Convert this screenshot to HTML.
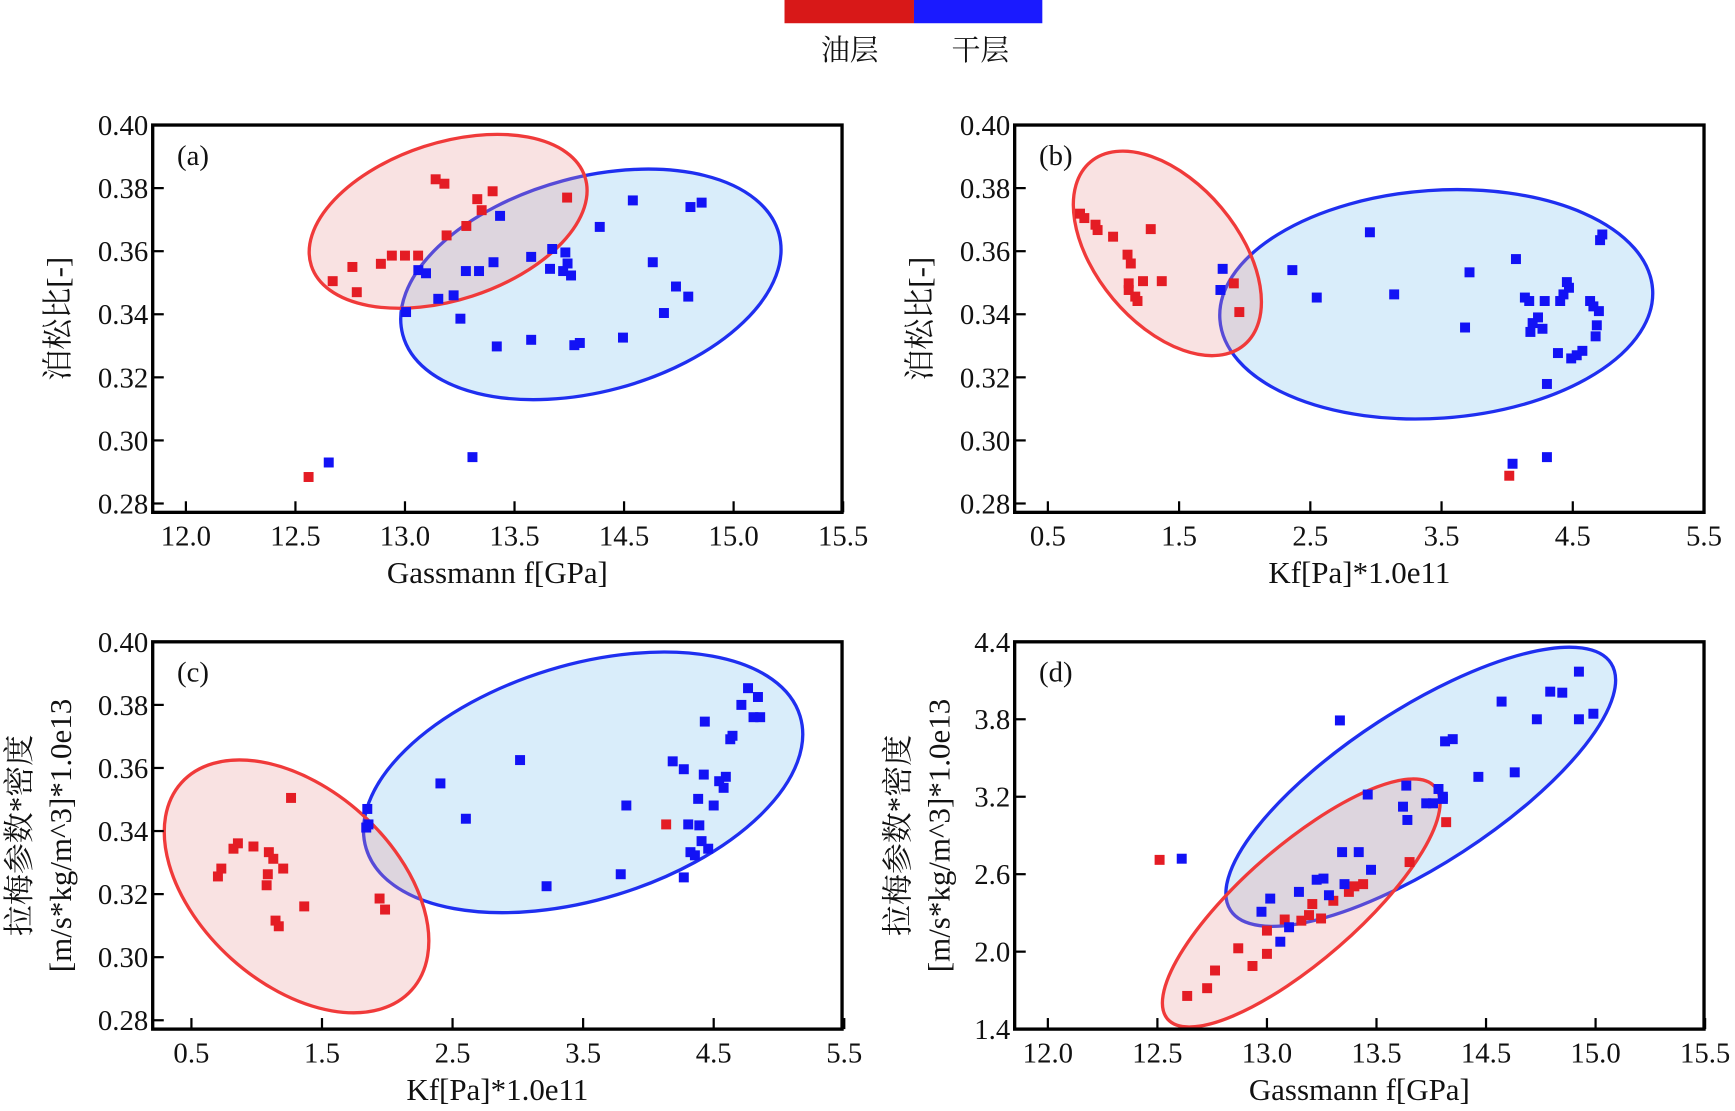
<!DOCTYPE html>
<html><head><meta charset="utf-8"><style>
html,body{margin:0;padding:0;background:#fff;}
svg{display:block;font-family:"Liberation Serif","Noto Serif CJK SC",serif;}
svg text{font-family:"Liberation Serif","Noto Serif CJK SC",serif;fill:#111;}
</style></head><body>
<svg id="fig" width="1735" height="1111" viewBox="0 0 1568 1004" preserveAspectRatio="none" xmlns="http://www.w3.org/2000/svg" font-family="Liberation Serif, Noto Serif CJK SC, serif">
<g>
<rect x="709" y="0" width="117" height="21" fill="#d81818"/>
<rect x="826" y="0" width="116" height="21" fill="#1a1aff"/>
<text x="768" y="54" font-size="26" text-anchor="middle">油层</text>
<text x="886" y="54" font-size="26" text-anchor="middle">干层</text>
</g>
</svg>
<script>
// ---- Panel (a) data ----
const aXTicks=[12.0,12.5,13.0,13.5,14.0,14.5,15.0];
const aXTickLabels=["12.0","12.5","13.0","13.5","14.5","15.0","15.5"];
const aYTicks=[0.40,0.38,0.36,0.34,0.32,0.30,0.28];
const aYTickLabels=["0.40","0.38","0.36","0.34","0.32","0.30","0.28"];
const aRedX=[12.56,12.67,12.76,12.78,12.89,12.94,13.0,13.06,13.14,13.18,13.19,13.28,13.33,13.40,13.35,13.74];
const aRedY=[0.2884,0.3505,0.355,0.347,0.356,0.3586,0.3586,0.3586,0.3828,0.3814,0.365,0.368,0.3765,0.379,0.373,0.377];
const aBlueX=[12.652,13.308,13.005,13.061,13.096,13.152,13.222,13.253,13.278,13.338,13.404,13.434,13.419,13.576,13.576,13.672,13.662,13.732,13.742,13.758,13.722,13.773,13.798,13.889,13.995,14.04,14.131,14.182,14.237,14.293,14.303,14.354];
const aBlueY=[0.2930,0.2947,0.3407,0.354,0.353,0.3449,0.346,0.3386,0.3537,0.3537,0.3565,0.3712,0.3298,0.3582,0.3319,0.3607,0.3544,0.3596,0.3561,0.3523,0.3537,0.3302,0.3309,0.3677,0.3326,0.3761,0.3565,0.3404,0.3488,0.3456,0.374,0.3754];
// ---- Panel (b) data ----
const bXTicks=[0.5,1.5,2.5,3.5,4.5,5.5];
const bXTickLabels=["0.5","1.5","2.5","3.5","4.5","5.5"];
const bRedX=[0.745,0.778,0.863,0.879,0.997,1.107,1.132,1.116,1.116,1.166,1.183,1.225,1.284,1.368,1.917,1.959,4.016];
const bRedY=[0.3719,0.3705,0.3684,0.3667,0.3646,0.3589,0.3561,0.3498,0.3477,0.3456,0.3442,0.3505,0.367,0.3505,0.3498,0.3407,0.2888];
const bBlueX=[1.832,1.815,2.363,2.549,2.954,3.139,3.713,3.679,4.067,4.135,4.168,4.177,4.194,4.235,4.269,4.286,4.303,4.387,4.404,4.429,4.455,4.471,4.488,4.530,4.573,4.632,4.657,4.674,4.683,4.699,4.708,4.725,4.041,4.303];
const bBlueY=[0.3544,0.3477,0.354,0.3453,0.366,0.3463,0.3533,0.3358,0.3575,0.3453,0.3442,0.3344,0.3372,0.339,0.3354,0.3442,0.3179,0.3277,0.3442,0.3463,0.3502,0.3484,0.326,0.327,0.3284,0.3442,0.3425,0.333,0.3365,0.341,0.3635,0.3653,0.2926,0.2947];
// ---- Panel (c) data ----
const cRedX=[0.703,0.729,0.822,0.856,0.975,1.093,1.127,1.085,1.076,1.203,1.263,1.364,1.144,1.169,1.941,1.983,4.136];
const cRedY=[0.3256,0.3281,0.3344,0.3361,0.3351,0.3333,0.3312,0.3263,0.3228,0.3281,0.3505,0.3161,0.3116,0.3098,0.3186,0.3151,0.3421];
const cBlueX=[1.847,1.856,1.839,2.407,2.602,3.017,3.220,3.788,3.831,4.186,4.271,4.305,4.381,4.39,4.432,4.424,4.458,4.5,4.542,4.576,4.593,4.627,4.644,4.712,4.763,4.805,4.839,4.856,4.271,4.322,4.407,4.356];
const cBlueY=[0.347,0.3421,0.3411,0.3551,0.3439,0.3625,0.3225,0.3263,0.3481,0.3621,0.3596,0.3421,0.3502,0.3418,0.3747,0.3579,0.3344,0.3481,0.3558,0.3537,0.3572,0.3691,0.3702,0.38,0.3853,0.3761,0.3825,0.3761,0.3253,0.3333,0.3368,0.3323];
// ---- Panel (d) data ----
const dYTicks=[4.4,3.8,3.2,2.6,2.0,1.4];
const dYTickLabels=["4.4","3.8","3.2","2.6","2.0","1.4"];
const dRedX=[12.510,12.636,12.727,12.763,12.869,12.934,13.0,13.0,13.081,13.157,13.192,13.207,13.247,13.303,13.374,13.399,13.439,13.651,13.818];
const dRedY=[2.711,1.657,1.717,1.854,2.026,1.889,1.983,2.163,2.249,2.24,2.283,2.369,2.257,2.394,2.463,2.506,2.523,2.694,3.003];
const dBlueX=[12.611,13.015,12.975,13.061,13.101,13.146,13.227,13.258,13.283,13.333,13.343,13.354,13.419,13.46,13.475,13.621,13.636,13.641,13.727,13.758,13.783,13.803,13.803,13.813,13.848,13.965,14.071,14.131,14.232,14.293,14.348,14.424,14.424,14.490];
const dBlueY=[2.72,2.411,2.309,2.077,2.189,2.463,2.557,2.566,2.437,3.791,2.771,2.523,2.771,3.217,2.634,3.123,3.286,3.02,3.149,3.149,3.26,3.2,3.183,3.629,3.646,3.354,3.937,3.389,3.8,4.014,4.006,4.169,3.8,3.843];

const NS="http://www.w3.org/2000/svg";
const svg=document.getElementById('fig');
function mk(tag,attrs,parent){const e=document.createElementNS(NS,tag);for(const k in attrs)e.setAttribute(k,attrs[k]);parent.appendChild(e);return e;}
const FF='Liberation Serif, Noto Serif CJK SC, serif';

function panel(p){
  const g=mk('g',{},svg);
  
  
  const sx=v=>p.x0px+(v-p.xv0)*p.xs;
  const sy=v=>p.y0px+(p.yv0-v)*p.ys;
  p.ell.forEach(el=>{
    const e=mk('ellipse',{cx:el[0],cy:el[1],rx:el[2],ry:el[3],transform:`rotate(${el[4]} ${el[0]} ${el[1]})`,fill:el[5],stroke:el[6],'stroke-width':3},g);
    
    
  });
  const pts=(xs,ys,col,name)=>{xs.forEach((x,i)=>{if(ys[i]===undefined)return;
    const r=mk('rect',{x:sx(x)-4.5,y:sy(ys[i])-4.5,width:9,height:9,fill:col},g);
    
    
  });};
  pts(p.rx,p.ry,'#e41c24','point-oil');
  pts(p.bx,p.by,'#1212f5','point-dry');
  const f=mk('rect',{x:p.L,y:p.T,width:p.R-p.L,height:p.B-p.T,fill:'none',stroke:'#000','stroke-width':3},g);
  
  
  p.xt.forEach((v,i)=>{const x=sx(v);
    mk('line',{x1:x,x2:x,y1:p.B,y2:p.B-10,stroke:'#000','stroke-width':2},g);
    const t=mk('text',{x:x,y:p.B+30,'font-size':26,'text-anchor':'middle','font-family':FF},g);t.textContent=p.xl[i];
    
    
  });
  p.yt.forEach((v,i)=>{const y=sy(v);
    mk('line',{x1:p.L,x2:p.L+10,y1:y,y2:y,stroke:'#000','stroke-width':2},g);
    const t=mk('text',{x:p.L-4,y:y+9,'font-size':26,'text-anchor':'end','font-family':FF},g);t.textContent=p.yl[i];
    
    
  });
  const xt=mk('text',{x:(p.L+p.R)/2,y:p.B+64,'font-size':28,'text-anchor':'middle','font-family':FF},g);xt.textContent=p.xtitle;
  
  
  p.ytitle.forEach((s,i)=>{
    const cx=p.ytx[i],cy=(p.T+p.B)/2;
    const t=mk('text',{x:cx,y:cy,'font-size':28,'text-anchor':'middle','font-family':FF,transform:`rotate(-90 ${cx} ${cy})`},g);t.textContent=s;
    
    
  });
  const lb=mk('text',{x:p.L+22,y:p.T+36,'font-size':26,'font-family':FF},g);lb.textContent='('+p.id+')';
  
  
}
const RF='rgba(235,150,150,0.28)',BF='rgba(185,222,245,0.55)',RS='#f03a3a',BS='#1f2ff0';
panel({id:'a',L:138,R:761,T:113,B:463,x0px:168,xv0:12,xs:198,y0px:113,yv0:0.40,ys:2850,
  xt:aXTicks,xl:aXTickLabels,yt:aYTicks,yl:aYTickLabels,rx:aRedX,ry:aRedY,bx:aBlueX,by:aBlueY,
  xtitle:'Gassmann f[GPa]',ytitle:['泊松比[-]'],ytx:[62],
  ell:[[534,257,176,97,-15,BF,BS,'ellipse-dry'],[405,200,130,71,-18,RF,RS,'ellipse-oil']]});
panel({id:'b',L:917,R:1540,T:113,B:463,x0px:947,xv0:0.5,xs:118.6,y0px:113,yv0:0.40,ys:2850,
  xt:bXTicks,xl:bXTickLabels,yt:aYTicks,yl:aYTickLabels,rx:bRedX,ry:bRedY,bx:bBlueX,by:bBlueY,
  xtitle:'Kf[Pa]*1.0e11',ytitle:['泊松比[-]'],ytx:[841],
  ell:[[1298,275,196,103,-4,BF,BS,'ellipse-dry'],[1055,229,108,64,50,RF,RS,'ellipse-oil']]});
panel({id:'c',L:138,R:761,T:580,B:930,x0px:173,xv0:0.5,xs:118,y0px:580,yv0:0.40,ys:2850,
  xt:bXTicks,xl:bXTickLabels,yt:aYTicks,yl:aYTickLabels,rx:cRedX,ry:cRedY,bx:cBlueX,by:cBlueY,
  xtitle:'Kf[Pa]*1.0e11',ytitle:['拉梅参数*密度','[m/s*kg/m^3]*1.0e13'],ytx:[27,64],
  ell:[[527,707,205,106,-17,BF,BS,'ellipse-dry'],[268,801,140,88,42,RF,RS,'ellipse-oil']]});
panel({id:'d',L:917,R:1540,T:580,B:930,x0px:947,xv0:12,xs:198,y0px:580,yv0:4.4,ys:70/0.6,
  xt:aXTicks,xl:aXTickLabels,yt:dYTicks,yl:dYTickLabels,rx:dRedX,ry:dRedY,bx:dBlueX,by:dBlueY,
  xtitle:'Gassmann f[GPa]',ytitle:['拉梅参数*密度','[m/s*kg/m^3]*1.0e13'],ytx:[821,858],
  ell:[[1284,711,205,70,-33,BF,BS,'ellipse-dry'],[1176,816,160,52,-41,RF,RS,'ellipse-oil']]});
</script>
</body></html>
